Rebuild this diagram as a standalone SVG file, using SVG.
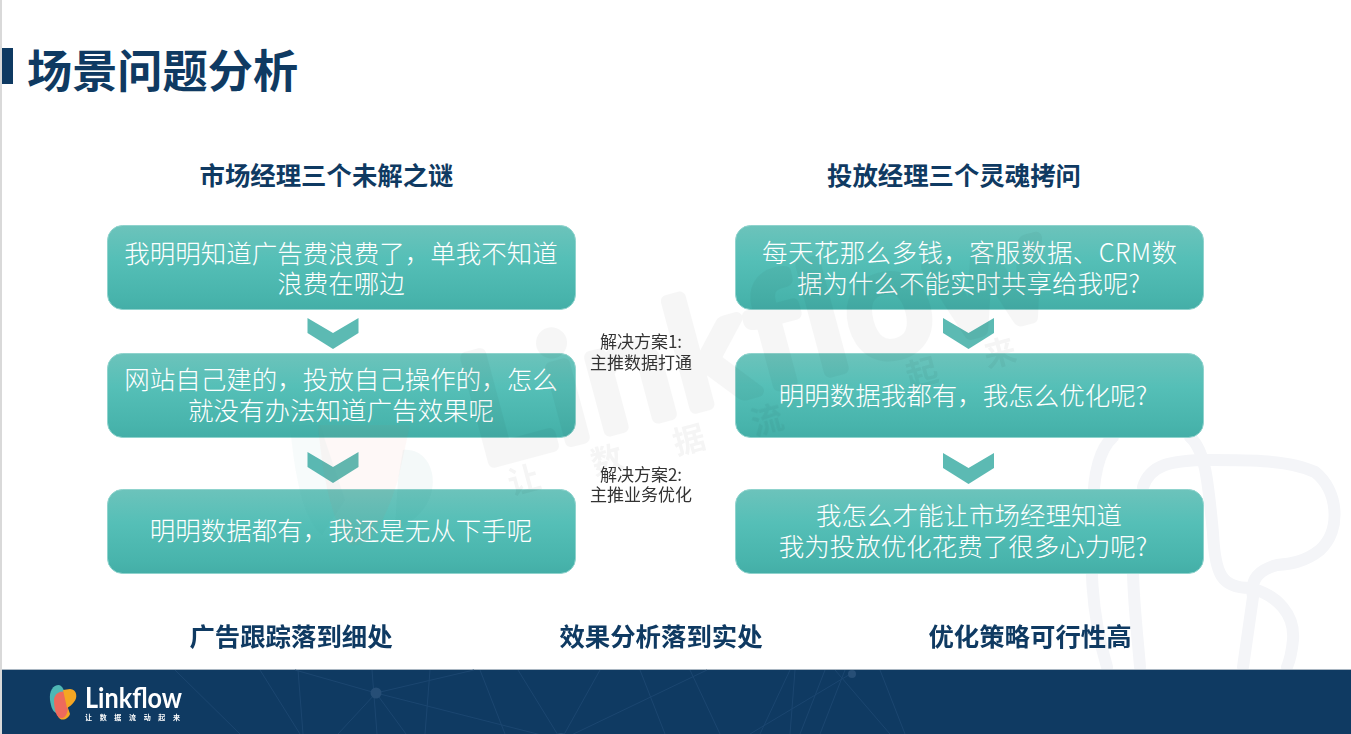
<svg xmlns="http://www.w3.org/2000/svg" width="1351" height="734" viewBox="0 0 1351 734">
<style>
text{font-family:"Noto Sans CJK SC","Liberation Sans",sans-serif}
.box{fill:url(#boxfill);stroke:#8fd3cd;stroke-width:1}
.bt{font-size:25.5px;fill:#fff;text-anchor:middle;font-weight:300}
.head{font-size:25.4px;fill:#0f3a62;font-weight:700;text-anchor:middle}
.note{font-size:17px;fill:#333;text-anchor:middle}
.chev{fill:#5cbab3}
.wm{fill:none;stroke:#f4f5f8;stroke-width:12;stroke-linecap:round;stroke-linejoin:round}
.net{fill:none;stroke:#1b4670;stroke-width:1}
.nd{fill:#264e76}
</style>
<defs>
<linearGradient id="boxfill" x1="0" y1="0" x2="0" y2="1">
<stop offset="0" stop-color="#6cc3bb"/><stop offset=".4" stop-color="#55bfb7"/><stop offset=".85" stop-color="#48b4ac"/><stop offset="1" stop-color="#44aea7"/>
</linearGradient>
<polygon id="chevron" points="0,0 25.5,15 51,0 51,15 25.5,31 0,15"/>
</defs>
<rect width="1351" height="734" fill="#fff"/>
<rect x="0" y="0" width="2" height="734" fill="#d9d9d9"/>

<g id="watermark-logo-right">
<path class="wm" d="M1113 437C1098 450 1093 480 1093 510C1090 560 1090 610 1107 667"/>
<path class="wm" d="M1190 437C1205 450 1208 480 1213 533C1215 575 1222 588 1250 588C1278 595 1295 615 1293 640C1292 650 1290 660 1287 667"/>
<path class="wm" d="M1143 487C1150 465 1170 460 1210 460C1250 460 1290 460 1315 472C1338 490 1342 530 1320 550C1305 562 1290 564 1277 565C1258 570 1250 580 1253 597L1243 667"/>
<path class="wm" d="M1133 573C1134 610 1138 640 1140 667"/>
</g>

<g id="title">
<rect x="2" y="48" width="11" height="36" fill="#0f3a62"/>
<text x="27" y="88" font-size="45.2" font-weight="700" fill="#0f3a62">场景问题分析</text>
</g>

<g id="heading-left"><text class="head" x="326.500" y="185">市场经理三个未解之谜</text></g>
<g id="heading-right"><text class="head" x="954" y="185">投放经理三个灵魂拷问</text></g>

<g id="connectors">
<use href="#chevron" class="chev" x="307.500" y="318"/>
<use href="#chevron" class="chev" x="307.500" y="452"/>
<use href="#chevron" class="chev" x="943" y="318"/>
<use href="#chevron" class="chev" x="943" y="453"/>
</g>

<g id="left-1"><rect class="box" x="107.500" y="225.500" width="468" height="84" rx="15"/>
<text class="bt" x="341" y="263">我明明知道广告费浪费了，单我不知道</text><text class="bt" x="341" y="293">浪费在哪边</text></g>
<g id="left-2"><rect class="box" x="107.500" y="353.500" width="468" height="84" rx="15"/>
<text class="bt" x="341" y="389">网站自己建的，投放自己操作的，怎么</text><text class="bt" x="341" y="420">就没有办法知道广告效果呢</text></g>
<g id="left-3"><rect class="box" x="107.500" y="489.500" width="468" height="84" rx="15"/>
<text class="bt" x="341" y="540">明明数据都有，我还是无从下手呢</text></g>
<g id="right-1"><rect class="box" x="735.500" y="225.500" width="468" height="84" rx="15"/>
<text class="bt" x="969.500" y="262" textLength="415">每天花那么多钱，客服数据、CRM数</text><text class="bt" x="968.500" y="293">据为什么不能实时共享给我呢?</text></g>
<g id="right-2"><rect class="box" x="735.500" y="353.500" width="468" height="84" rx="15"/>
<text class="bt" x="963" y="405">明明数据我都有，我怎么优化呢?</text></g>
<g id="right-3"><rect class="box" x="735.500" y="489.500" width="468" height="84" rx="15"/>
<text class="bt" x="969" y="525">我怎么才能让市场经理知道</text><text class="bt" x="963" y="556">我为投放优化花费了很多心力呢?</text></g>

<g id="watermark">
<g transform="rotate(-15 500 460)" opacity=".032">
<text x="480" y="460" font-size="150" font-weight="400" fill="#000" stroke="#000" stroke-width="12" stroke-linejoin="round" style="font-family:Lato,sans-serif" letter-spacing="5">Linkflow</text>
</g>
<g font-size="32" font-weight="700" fill="#000" opacity=".04" text-anchor="middle">
<text transform="translate(527 491) rotate(-15)">让</text>
<text transform="translate(610 471) rotate(-15)">数</text>
<text transform="translate(692 451) rotate(-15)">据</text>
<text transform="translate(770 431) rotate(-15)">流</text>
<text transform="translate(925 384) rotate(-15)">起</text>
<text transform="translate(1003 364) rotate(-15)">来</text>
</g>
<path d="M290 425C294 470 302 520 322 535L345 500L320 425Z" fill="#2f8f8f" opacity=".04"/>
<path d="M318 425C322 470 330 520 350 545C372 548 385 520 398 480L410 425Z" fill="#ee5a4a" opacity=".045"/>
<path d="M403 450C425 448 436 470 432 490C428 510 410 525 395 530L398 480Z" fill="#2f8f8f" opacity=".05"/>
</g>

<g id="note-1"><text class="note" x="641" y="348">解决方案1:</text><text class="note" x="641" y="369">主推数据打通</text></g>
<g id="note-2"><text class="note" x="641" y="481">解决方案2:</text><text class="note" x="641" y="501">主推业务优化</text></g>

<g id="bottom-1"><text class="head" x="291" y="646">广告跟踪落到细处</text></g>
<g id="bottom-2"><text class="head" x="661" y="646">效果分析落到实处</text></g>
<g id="bottom-3"><text class="head" x="1030" y="646">优化策略可行性高</text></g>

<g id="footer">
<rect x="2" y="669" width="1349" height="65" fill="#0f3a62"/>
<rect x="2" y="669" width="1349" height="1" fill="#a9b6c2"/>
<path class="net" d="M295 670L376 693L561 740M376 693L474 670M376 693L338 734M376 693L406 734M372 670L377 734M561 740L707 670M518 670L561 740M561 740L600 670M480 670L505 734M430 670L425 734M298 670L303 734M640 670L665 734M720 734L690 670M790 670L760 734M845 670L820 734M835 670L890 734M905 734L880 670M750 734L852 673M790 734L795 670M175 670L240 734M260 670L300 734M825 670L800 734"/>
<circle class="nd" cx="376" cy="693" r="5.500"/><circle class="nd" cx="561" cy="740" r="7"/><circle class="nd" cx="852" cy="674" r="4"/>
</g>

<g id="logo">
<path d="M50 700C49 691 53 685 59 685C64 686 66 695 64 704C62 712 60 715 56 713C52 711 51 706 50 700Z" fill="#4fb7b5"/>
<path d="M58 716C60 722 68 720 70 714L66 702L56 708Z" fill="#f5a623"/>
<path d="M54 699C55 693 61 690 66 692L68 706C68 714 65 719 60 718C55 716 54 706 54 699Z" fill="#ee6a5c"/>
<path d="M63 690L70 689C77 689 78 698 74 702C72 705 69 707 67 708Z" fill="#f5a623"/>
<text x="85" y="708" font-size="28" font-weight="700" fill="#fff" style="font-family:Lato,sans-serif" textLength="97" lengthAdjust="spacingAndGlyphs">Linkflow</text>
<text x="85" y="720" font-size="7" font-weight="700" fill="#fff" textLength="95">让数据流动起来</text>
</g>
</svg>
